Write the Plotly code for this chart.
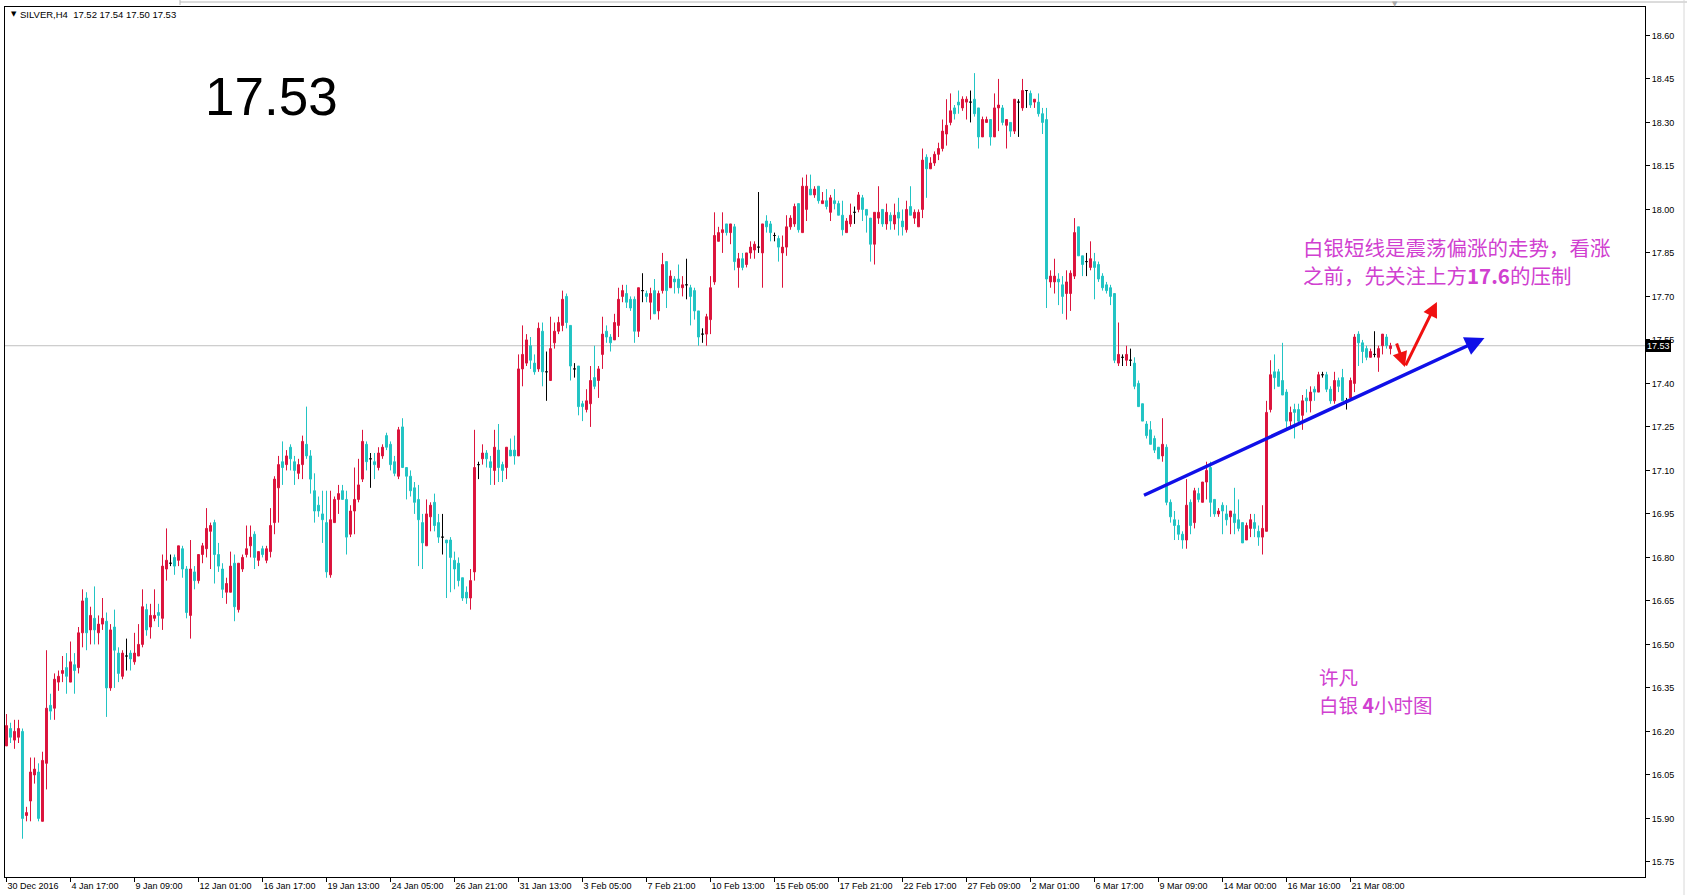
import plotly.graph_objects as go

# ---------------- data (SILVER, H4) ----------------
opens = [
16.15,16.21,16.17,16.18,16.20,15.91,15.96,16.05,16.06,15.89,
16.09,16.29,16.28,16.37,16.40,16.42,16.37,16.43,16.42,16.54,
16.66,16.55,16.59,16.54,16.57,16.58,16.35,16.56,16.47,16.39,
16.46,16.47,16.44,16.46,16.50,16.62,16.56,16.59,16.61,16.59,
16.76,16.78,16.80,16.79,16.83,16.76,16.60,16.75,16.72,16.81,
16.83,16.89,16.92,16.81,16.76,16.68,16.68,16.78,16.62,16.76,
16.81,16.84,16.88,16.79,16.83,16.79,16.82,16.92,17.04,17.13,
17.12,17.18,17.13,17.09,17.12,17.19,17.15,17.03,16.98,16.95,
16.92,16.74,16.92,17.00,17.03,17.00,16.88,16.96,17.00,17.07,
17.19,17.14,17.13,17.11,17.15,17.22,17.19,17.13,17.08,17.25,
17.11,17.08,17.04,17.00,16.92,16.84,16.94,16.99,16.92,16.87,
16.86,16.86,16.79,16.78,16.73,16.68,16.66,16.75,17.12,17.14,
17.16,17.13,17.10,17.17,17.12,17.11,17.17,17.17,17.15,17.45,
17.47,17.53,17.47,17.45,17.58,17.44,17.41,17.54,17.58,17.60,
17.70,17.60,17.45,17.46,17.33,17.31,17.33,17.42,17.41,17.50,
17.58,17.56,17.55,17.60,17.70,17.71,17.69,17.69,17.58,17.72,
17.71,17.68,17.72,17.65,17.72,17.82,17.73,17.76,17.76,17.73,
17.74,17.73,17.72,17.65,17.57,17.57,17.62,17.75,17.89,17.92,
17.95,17.92,17.94,17.80,17.83,17.81,17.85,17.86,17.87,17.85,
17.96,17.95,17.91,17.90,17.85,17.87,17.94,17.95,18.02,17.92,
18.00,18.07,18.05,18.08,18.02,18.03,17.99,18.03,18.02,17.98,
17.92,17.95,17.99,18.00,18.04,18.00,17.97,17.88,17.97,18.00,
17.95,17.98,17.95,17.99,17.96,17.93,18.01,17.97,17.94,18.00,
18.18,18.14,18.16,18.19,18.21,18.26,18.30,18.35,18.37,18.35,
18.37,18.37,18.38,18.35,18.25,18.30,18.31,18.25,18.35,18.35,
18.29,18.30,18.27,18.37,18.35,18.41,18.40,18.37,18.37,18.33,
18.31,17.75,17.75,17.76,17.74,17.71,17.71,17.77,17.94,17.84,
17.82,17.80,17.82,17.81,17.77,17.74,17.73,17.71,17.47,17.49,
17.48,17.48,17.47,17.40,17.33,17.26,17.24,17.21,17.18,17.15,
17.18,16.99,16.93,16.91,16.88,16.86,16.99,16.92,17.02,16.99,
17.06,17.11,17.00,16.95,16.98,16.95,16.94,16.95,16.93,16.92,
16.86,16.90,16.92,16.89,16.87,16.89,17.31,17.44,17.44,17.41,
17.37,17.27,17.31,17.31,17.29,17.35,17.34,17.38,17.37,17.43,
17.43,17.38,17.34,17.41,17.42,17.34,17.35,17.40,17.57,17.54,
17.52,17.49,17.50,17.49,17.53,17.56,17.52]

highs = [
16.26,16.23,16.24,16.24,16.21,15.94,16.11,16.11,16.09,16.13,
16.48,16.33,16.40,16.41,16.46,16.47,16.51,16.47,16.56,16.69,
16.68,16.63,16.70,16.60,16.66,16.61,16.57,16.62,16.49,16.48,
16.52,16.48,16.54,16.57,16.69,16.64,16.64,16.69,16.64,16.81,
16.90,16.81,16.81,16.84,16.84,16.77,16.86,16.77,16.81,16.85,
16.97,16.92,16.93,16.85,16.78,16.73,16.82,16.81,16.78,16.81,
16.91,16.91,16.89,16.82,16.84,16.84,16.97,17.08,17.15,17.20,
17.17,17.19,17.15,17.14,17.22,17.32,17.17,17.09,17.01,17.03,
17.03,17.03,17.01,17.05,17.05,17.03,16.98,17.11,17.14,17.24,
17.20,17.16,17.16,17.18,17.19,17.23,17.20,17.15,17.25,17.28,
17.11,17.10,17.06,17.05,16.95,17.00,16.99,17.02,16.95,16.95,
16.86,16.87,16.82,16.80,16.73,16.70,16.76,17.24,17.13,17.19,
17.17,17.15,17.24,17.26,17.13,17.18,17.21,17.22,17.50,17.60,
17.57,17.56,17.50,17.61,17.61,17.51,17.63,17.61,17.63,17.72,
17.71,17.60,17.47,17.46,17.34,17.38,17.46,17.53,17.46,17.63,
17.60,17.57,17.64,17.73,17.74,17.74,17.70,17.70,17.73,17.78,
17.72,17.73,17.76,17.72,17.85,17.82,17.79,17.77,17.81,17.77,
17.83,17.74,17.73,17.65,17.59,17.64,17.77,17.99,17.94,17.99,
17.95,17.95,17.95,17.85,17.85,17.85,17.89,17.89,18.06,17.95,
17.98,17.96,17.92,17.91,17.91,17.98,17.98,18.02,18.02,18.11,
18.12,18.12,18.08,18.08,18.06,18.07,18.05,18.07,18.03,18.03,
17.97,18.02,18.01,18.06,18.05,18.00,17.97,17.99,18.08,18.00,
18.02,17.99,18.02,18.04,18.00,18.03,18.08,18.00,18.00,18.21,
18.19,18.18,18.20,18.23,18.31,18.38,18.40,18.36,18.41,18.39,
18.39,18.41,18.47,18.35,18.32,18.32,18.31,18.40,18.45,18.36,
18.31,18.30,18.38,18.38,18.45,18.41,18.41,18.38,18.40,18.35,
18.35,17.79,17.83,17.78,17.77,17.79,17.79,17.97,17.94,17.84,
17.85,17.89,17.85,17.82,17.78,17.75,17.74,17.71,17.61,17.50,
17.53,17.52,17.49,17.41,17.33,17.27,17.27,17.22,17.18,17.28,
17.19,17.00,16.96,16.93,16.89,17.07,17.00,17.04,17.04,17.06,
17.13,17.13,17.00,16.97,16.99,16.98,16.96,17.04,17.00,16.92,
16.92,16.95,16.95,16.91,16.98,17.34,17.48,17.50,17.45,17.54,
17.38,17.32,17.33,17.33,17.36,17.38,17.39,17.39,17.44,17.44,
17.44,17.39,17.44,17.42,17.45,17.35,17.42,17.57,17.58,17.55,
17.53,17.52,17.58,17.53,17.57,17.57,17.54]

lows = [
16.15,16.16,16.14,16.16,15.83,15.89,15.89,16.02,15.89,15.89,
16.00,16.24,16.24,16.34,16.37,16.33,16.37,16.33,16.40,16.49,
16.48,16.50,16.50,16.50,16.55,16.25,16.34,16.35,16.37,16.38,
16.41,16.41,16.43,16.46,16.49,16.53,16.52,16.58,16.56,16.55,
16.72,16.77,16.74,16.77,16.73,16.59,16.52,16.69,16.71,16.78,
16.80,16.76,16.71,16.75,16.66,16.64,16.68,16.58,16.61,16.75,
16.80,16.80,16.76,16.77,16.80,16.78,16.80,16.88,16.92,17.05,
17.10,17.10,17.05,17.07,17.07,17.14,17.02,16.92,16.94,16.85,
16.73,16.73,16.92,16.95,17.00,16.81,16.87,16.88,16.99,17.06,
17.10,17.04,17.07,17.10,17.14,17.17,17.10,17.08,17.07,17.11,
17.00,17.01,16.95,16.77,16.76,16.84,16.89,16.89,16.85,16.81,
16.66,16.68,16.69,16.70,16.65,16.64,16.62,16.72,17.07,17.12,
17.11,17.05,17.05,17.06,17.06,17.07,17.15,17.12,17.15,17.39,
17.46,17.45,17.43,17.44,17.39,17.34,17.41,17.52,17.57,17.58,
17.59,17.41,17.42,17.29,17.27,17.30,17.25,17.38,17.35,17.45,
17.54,17.51,17.55,17.56,17.68,17.66,17.65,17.54,17.56,17.68,
17.68,17.62,17.64,17.62,17.71,17.66,17.73,17.71,17.71,17.70,
17.69,17.60,17.62,17.53,17.54,17.53,17.57,17.74,17.89,17.85,
17.91,17.88,17.79,17.73,17.79,17.80,17.83,17.83,17.85,17.73,
17.92,17.89,17.89,17.82,17.73,17.84,17.93,17.94,17.92,17.92,
17.96,18.05,18.04,18.02,18.02,18.00,17.96,18.00,17.98,17.91,
17.92,17.94,17.95,17.99,17.96,17.92,17.82,17.81,17.95,17.94,
17.93,17.93,17.93,17.91,17.91,17.92,17.98,17.95,17.94,17.97,
18.04,18.14,18.15,18.17,18.20,18.22,18.29,18.31,18.33,18.34,
18.31,18.30,18.32,18.21,18.25,18.30,18.22,18.25,18.27,18.29,
18.21,18.25,18.26,18.25,18.34,18.35,18.35,18.35,18.32,18.26,
17.66,17.73,17.71,17.67,17.64,17.62,17.65,17.76,17.84,17.77,
17.77,17.79,17.69,17.75,17.72,17.71,17.67,17.47,17.46,17.46,
17.46,17.46,17.38,17.32,17.27,17.21,17.19,17.16,17.14,17.13,
16.98,16.92,16.86,16.86,16.83,16.83,16.88,16.90,16.99,16.99,
17.00,16.94,16.94,16.94,16.88,16.91,16.88,16.88,16.89,16.85,
16.86,16.87,16.87,16.84,16.81,16.89,17.30,17.38,17.39,17.36,
17.24,17.25,17.21,17.26,17.24,17.30,17.30,17.34,17.37,17.42,
17.37,17.33,17.33,17.37,17.34,17.31,17.34,17.37,17.46,17.47,
17.48,17.49,17.49,17.44,17.50,17.52,17.50]

closes = [
16.22,16.18,16.20,16.21,15.90,15.92,16.06,16.07,15.90,16.10,
16.28,16.27,16.38,16.39,16.41,16.39,16.44,16.41,16.54,16.65,
16.54,16.60,16.55,16.57,16.59,16.35,16.55,16.48,16.40,16.47,
16.46,16.45,16.47,16.50,16.63,16.55,16.60,16.60,16.60,16.77,
16.79,16.78,16.77,16.84,16.76,16.61,16.76,16.72,16.81,16.84,
16.90,16.91,16.81,16.77,16.69,16.71,16.77,16.63,16.78,16.80,
16.83,16.87,16.80,16.82,16.81,16.83,16.91,17.07,17.12,17.11,
17.15,17.14,17.10,17.12,17.20,17.15,17.07,16.96,16.96,16.93,
16.75,16.93,17.00,17.02,17.00,16.87,16.96,17.00,17.05,17.20,
17.13,17.14,17.12,17.16,17.18,17.18,17.12,17.09,17.24,17.11,
17.08,17.03,16.99,16.93,16.85,16.95,16.98,16.91,16.87,16.87,
16.85,16.80,16.76,16.72,16.66,16.66,16.72,17.11,17.12,17.16,
17.14,17.11,17.18,17.11,17.10,17.18,17.15,17.15,17.45,17.50,
17.55,17.48,17.44,17.59,17.44,17.44,17.52,17.58,17.61,17.69,
17.61,17.46,17.45,17.32,17.32,17.34,17.41,17.39,17.45,17.57,
17.56,17.54,17.61,17.69,17.72,17.68,17.66,17.58,17.73,17.72,
17.70,17.71,17.64,17.71,17.81,17.72,17.77,17.75,17.73,17.74,
17.74,17.70,17.65,17.56,17.57,17.63,17.73,17.91,17.92,17.93,
17.92,17.95,17.82,17.83,17.80,17.85,17.87,17.88,17.87,17.95,
17.94,17.92,17.91,17.87,17.87,17.94,17.97,18.01,17.93,18.08,
18.08,18.05,18.07,18.03,18.03,18.01,18.04,18.02,17.98,17.93,
17.96,17.98,17.99,18.05,18.00,17.98,17.88,17.99,17.99,17.95,
17.99,17.96,17.98,17.97,17.94,18.00,17.98,17.99,17.99,18.17,
18.14,18.16,18.19,18.21,18.27,18.29,18.34,18.33,18.36,18.38,
18.38,18.37,18.33,18.25,18.31,18.31,18.25,18.35,18.36,18.30,
18.31,18.27,18.38,18.37,18.41,18.41,18.36,18.38,18.33,18.30,
17.76,17.77,17.77,17.75,17.70,17.75,17.78,17.92,17.84,17.81,
17.82,17.83,17.80,17.76,17.73,17.72,17.70,17.48,17.50,17.49,
17.50,17.48,17.39,17.32,17.27,17.22,17.19,17.17,17.14,17.19,
16.99,16.94,16.91,16.88,16.86,16.98,16.91,17.03,17.00,17.06,
17.10,16.99,16.95,16.96,16.96,16.93,16.96,16.92,16.90,16.85,
16.91,16.93,16.90,16.87,16.90,17.30,17.43,17.42,17.39,17.36,
17.27,17.30,17.30,17.27,17.34,17.34,17.37,17.37,17.43,17.43,
17.38,17.34,17.41,17.39,17.34,17.34,17.41,17.56,17.54,17.51,
17.49,17.51,17.50,17.52,17.57,17.53,17.53]

x_tick_bars = [0, 16, 32, 48, 64, 80, 96, 112, 128, 144, 160, 176,
               192, 208, 224, 240, 256, 272, 288, 304, 320, 336]
x_tick_labels = ["30 Dec 2016", "4 Jan 17:00", "9 Jan 09:00", "12 Jan 01:00",
                 "16 Jan 17:00", "19 Jan 13:00", "24 Jan 05:00", "26 Jan 21:00",
                 "31 Jan 13:00", "3 Feb 05:00", "7 Feb 21:00", "10 Feb 13:00",
                 "15 Feb 05:00", "17 Feb 21:00", "22 Feb 17:00", "27 Feb 09:00",
                 "2 Mar 01:00", "6 Mar 17:00", "9 Mar 09:00", "14 Mar 00:00",
                 "16 Mar 16:00", "21 Mar 08:00"]
y_tick_values = [15.75, 15.90, 16.05, 16.20, 16.35, 16.50, 16.65, 16.80, 16.95,
                 17.10, 17.25, 17.40, 17.55, 17.70, 17.85, 18.00, 18.15, 18.30,
                 18.45, 18.60]

# hand-drawn trend line and arrows (bar index, price)
trend_x = [284.0, 369.5]
trend_y = [17.012, 17.557]
red_x = [347.4, 349.6, 357.6]
red_y = [17.543, 17.457, 17.681]

symbol = "SILVER,H4"
note_lines = ["白银短线是震荡偏涨的走势，看涨", "之前，先关注上方<b>17.6</b>的压制"]
sign_lines = ["许凡", "白银 <b>4</b>小时图"]

# ---------------- styling ----------------
W, H = 1687, 895
PL, PR, PT, PB = 5, 1645, 7, 877          # plot area in pixels
PW, PH = PR - PL, PB - PT
BULL = "#DC143C"
BEAR = "#22C4C4"
DOJI = "#000000"
FONT = "Liberation Sans, Arial, sans-serif"
MAGENTA = "#D040D0"


def xp(px):
    return (px - PL) / PW


def yp(py):
    return 1 - (py - PT) / PH


fig = go.Figure()

groups = [("bull", BULL), ("bear", BEAR), ("doji", DOJI)]
for kind, col in groups:
    ii = [i for i in range(len(closes))
          if (kind == "bull" and closes[i] > opens[i])
          or (kind == "bear" and closes[i] < opens[i])
          or (kind == "doji" and closes[i] == opens[i])]
    fig.add_trace(go.Candlestick(
        x=ii,
        open=[opens[i] for i in ii],
        high=[highs[i] for i in ii],
        low=[lows[i] for i in ii],
        close=[closes[i] for i in ii],
        increasing=dict(line=dict(color=col, width=1), fillcolor=col),
        decreasing=dict(line=dict(color=col, width=1), fillcolor=col),
        whiskerwidth=0,
        hoverinfo="skip",
        showlegend=False,
    ))

last = closes[-1]

shapes = [
    # current price line
    dict(type="line", xref="paper", yref="y", x0=0, x1=1, y0=last, y1=last,
         line=dict(color="#C0C0C0", width=1), layer="below"),
    # window chrome
    dict(type="line", xref="paper", yref="paper", x0=xp(180), x1=xp(W), y0=yp(2), y1=yp(2),
         line=dict(color="#B8B8B8", width=1)),
    dict(type="line", xref="paper", yref="paper", x0=xp(180), x1=xp(180), y0=yp(0), y1=yp(5),
         line=dict(color="#B8B8B8", width=1)),
    dict(type="line", xref="paper", yref="paper", x0=xp(1684), x1=xp(1684), y0=yp(0), y1=yp(H),
         line=dict(color="#D8D8D8", width=1)),
]

annotations = [
    # header
    dict(xref="paper", yref="paper", x=xp(9), y=yp(14), xanchor="left", yanchor="middle",
         text="▼", showarrow=False, font=dict(family="DejaVu Sans", size=7, color="black")),
    dict(xref="paper", yref="paper", x=xp(18), y=yp(14.5), xanchor="left", yanchor="middle",
         text=f"{symbol}\u00a0\u00a0{opens[-1]:.2f} {highs[-1]:.2f} {lows[-1]:.2f} {closes[-1]:.2f}",
         showarrow=False, font=dict(family=FONT, size=9.5, color="black")),
    # big last price
    dict(xref="paper", yref="paper", x=xp(203), y=yp(96), xanchor="left", yanchor="middle",
         text=f"{last:.2f}", showarrow=False,
         font=dict(family=FONT, size=53, color="black")),
    # price tag on axis
    dict(xref="paper", yref="y", x=1, y=last, xanchor="left", yanchor="middle", xshift=1,
         text=f"{last:.2f}", showarrow=False, bgcolor="black", borderpad=1, borderwidth=0,
         font=dict(family=FONT, size=9, color="white")),
    # chart shift marker
    dict(xref="paper", yref="paper", x=xp(1395), y=yp(4), xanchor="center", yanchor="middle",
         text="▼", showarrow=False, font=dict(family="DejaVu Sans", size=7, color="#A8A8A8")),
    # blue trend arrow
    dict(xref="x", yref="y", axref="x", ayref="y", x=trend_x[1], y=trend_y[1],
         ax=trend_x[0], ay=trend_y[0], text="", showarrow=True, arrowhead=2,
         arrowsize=1.1, arrowwidth=3.5, arrowcolor="#1010E8", standoff=0, startstandoff=0),
    # red check arrows
    dict(xref="x", yref="y", axref="x", ayref="y", x=red_x[1], y=red_y[1],
         ax=red_x[0], ay=red_y[0], text="", showarrow=True, arrowhead=2,
         arrowsize=1, arrowwidth=3, arrowcolor="#F01010", standoff=0),
    dict(xref="x", yref="y", axref="x", ayref="y", x=red_x[2], y=red_y[2],
         ax=red_x[1], ay=red_y[1], text="", showarrow=True, arrowhead=2,
         arrowsize=1, arrowwidth=3, arrowcolor="#F01010", standoff=0),
]

# Chinese comments, one annotation per line
for k, line in enumerate(note_lines):
    annotations.append(dict(
        xref="paper", yref="paper", x=xp(1302), y=yp(247 + 28 * k),
        xanchor="left", yanchor="middle", text=line, showarrow=False, borderpad=0,
        font=dict(family="Noto Sans CJK SC", size=20.5, color=MAGENTA)))
for k, line in enumerate(sign_lines):
    annotations.append(dict(
        xref="paper", yref="paper", x=xp(1318), y=yp(676 + 28 * k),
        xanchor="left", yanchor="middle", text=line, showarrow=False, borderpad=0,
        font=dict(family="Noto Sans CJK SC", size=19.5, color=MAGENTA)))

fig.update_layout(
    width=W, height=H, autosize=False,
    margin=dict(l=PL, r=W - PR, t=PT, b=H - PB, pad=0),
    paper_bgcolor="white", plot_bgcolor="white",
    font=dict(family=FONT, size=9, color="black"),
    showlegend=False,
    hovermode=False,
    shapes=shapes,
    annotations=annotations,
    xaxis=dict(
        type="linear", range=[-0.375, 409.625], rangeslider=dict(visible=False),
        tickmode="array", tickvals=x_tick_bars, ticktext=x_tick_labels,
        ticks="outside", ticklen=4, tickwidth=1, tickcolor="black",
        ticklabelposition="outside right",
        showline=True, linecolor="black", linewidth=1, mirror=True,
        showgrid=False, zeroline=False, automargin=False, fixedrange=True,
        tickfont=dict(family=FONT, size=9, color="black"),
    ),
    yaxis=dict(
        side="right", range=[15.698, 18.698],
        tickmode="array", tickvals=y_tick_values,
        ticktext=[f"{v:.2f}" for v in y_tick_values],
        ticks="outside", ticklen=4, tickwidth=1, tickcolor="black",
        showline=True, linecolor="black", linewidth=1, mirror=True,
        showgrid=False, zeroline=False, automargin=False, fixedrange=True,
        tickfont=dict(family=FONT, size=9, color="black"),
    ),
)

fig.write_html("out.html", config={"displayModeBar": False},
               post_script="document.body.style.margin='0';document.body.style.overflow='hidden';")
